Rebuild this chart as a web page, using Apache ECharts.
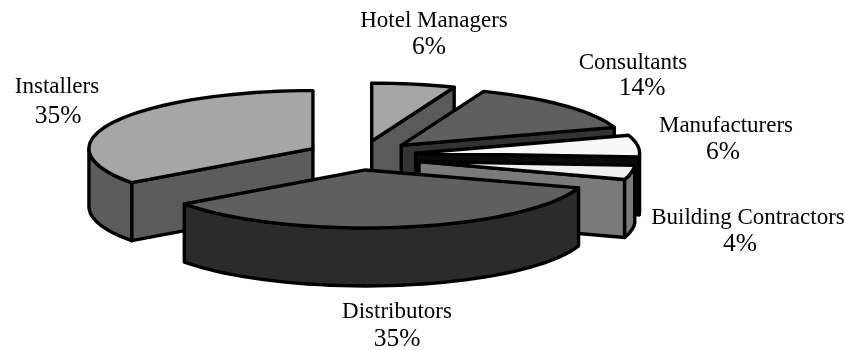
<!DOCTYPE html>
<html><head><meta charset="utf-8">
<style>html,body{margin:0;padding:0;background:#fff}#c{width:845px;height:350px}</style>
<script src="https://cdn.jsdelivr.net/npm/echarts@6/dist/echarts.min.js"></script>
</head><body><div id="c"></div>
<script>
var categories = ['Installers','Hotel Managers','Consultants','Manufacturers','Building Contractors','Distributors'];
var shares = [35,6,14,6,4,35];

// styles
var topColors  = ['#a6a6a6','#a6a6a6','#5f5f5f','#f8f8f8','#f0f0f0','#5f5f5f'];
var wallColors = ['#5c5c5c','#5a5a5a','#333333','#0a0a0a','#7a7a7a','#2b2b2b'];
var nameAnchors = [[57,87],[434,21],[633,63],[726,126],[748,218],[397,312]];
var pctAnchors  = [[58,116],[429,47],[642,88],[723,152],[740,244],[397,339]];
// small per-slice layout corrections (slices are not all the same size in the reference)
var radiusScale = [1,1,1,1,0.965,1];
var apexNudge   = [[0,0],[0,0],[0,0],[0,0],[4,4],[-4.5,1]];

// layout of the projected pie
var cx=361.5, cy=155, rx=224, ry=58, depth=58, explode=54.5, startDeg=144;
var total=shares.reduce(function(a,b){return a+b;},0);
var rad=Math.PI/180;

function arcPoints(c,a0,a1,dz,sc){
  var pts=[],n=Math.max(2,Math.ceil(Math.abs(a1-a0)/3));
  for(var i=0;i<=n;i++){var t=(a0+(a1-a0)*i/n)*rad;pts.push([c[0]+sc*rx*Math.cos(t),c[1]+ry*Math.sin(t)+dz]);}
  return pts;
}
function poly(points,fill){
  return {type:'polygon',shape:{points:points},style:{fill:fill,stroke:'#000',lineWidth:3.4,lineJoin:'round'}};
}
function radialWall(c,a,q,fill,out,sc){
  var p=arcPoints(c,a,a,0,sc)[0];
  var dx=p[0]-c[0],dy=p[1]-c[1];
  var cr=dx*(q[1]-c[1])-dy*(q[0]-c[0]);
  if(dx*cr<0){out.push(poly([c,p,[p[0],p[1]+depth],[c[0],c[1]+depth]],fill));}
}
function renderItem(params,api){
  var i=params.dataIndex,before=0,sc=radiusScale[i];
  for(var k=0;k<i;k++){before+=shares[k];}
  var a0=startDeg+before/total*360;
  var a1=a0+api.value(0)/total*360;
  var mid=(a0+a1)/2*rad;
  var c=[cx+explode*Math.cos(mid)+apexNudge[i][0],cy+explode*ry/rx*Math.sin(mid)+apexNudge[i][1]];
  var q=[c[0]+sc*rx*Math.cos(mid),c[1]+ry*Math.sin(mid)];
  var children=[];
  radialWall(c,a0,q,wallColors[i],children,sc);
  radialWall(c,a1,q,wallColors[i],children,sc);
  // front part of the outer wall, angles 0..180 (mod 360)
  [[0,180],[360,540]].forEach(function(r){
    var s=Math.max(a0,r[0]),e=Math.min(a1,r[1]);
    if(e>s){children.push(poly(arcPoints(c,s,e,0,sc).concat(arcPoints(c,e,s,depth,sc)),wallColors[i]));}
  });
  children.push(poly([c].concat(arcPoints(c,a0,a1,0,sc)),topColors[i]));
  return {type:'group',children:children};
}
function labelItem(params,api){
  var i=params.dataIndex;
  return {type:'group',children:[
    {type:'text',style:{text:categories[i],x:nameAnchors[i][0],y:nameAnchors[i][1],fill:'#000',font:'23px "Liberation Serif"',align:'center',verticalAlign:'middle'}},
    {type:'text',style:{text:api.value(0)+'%',x:pctAnchors[i][0],y:pctAnchors[i][1],fill:'#000',font:'25.5px "Liberation Serif"',align:'center',verticalAlign:'middle'}}
  ]};
}
var chart=echarts.init(document.getElementById('c'),null,{renderer:'canvas'});
chart.setOption({
  animation:false,backgroundColor:'#fff',
  series:[
    {type:'custom',coordinateSystem:'none',renderItem:renderItem,data:shares,silent:true,z:1},
    {type:'custom',coordinateSystem:'none',renderItem:labelItem,data:shares,silent:true,z:2}
  ]
});
</script></body></html>
